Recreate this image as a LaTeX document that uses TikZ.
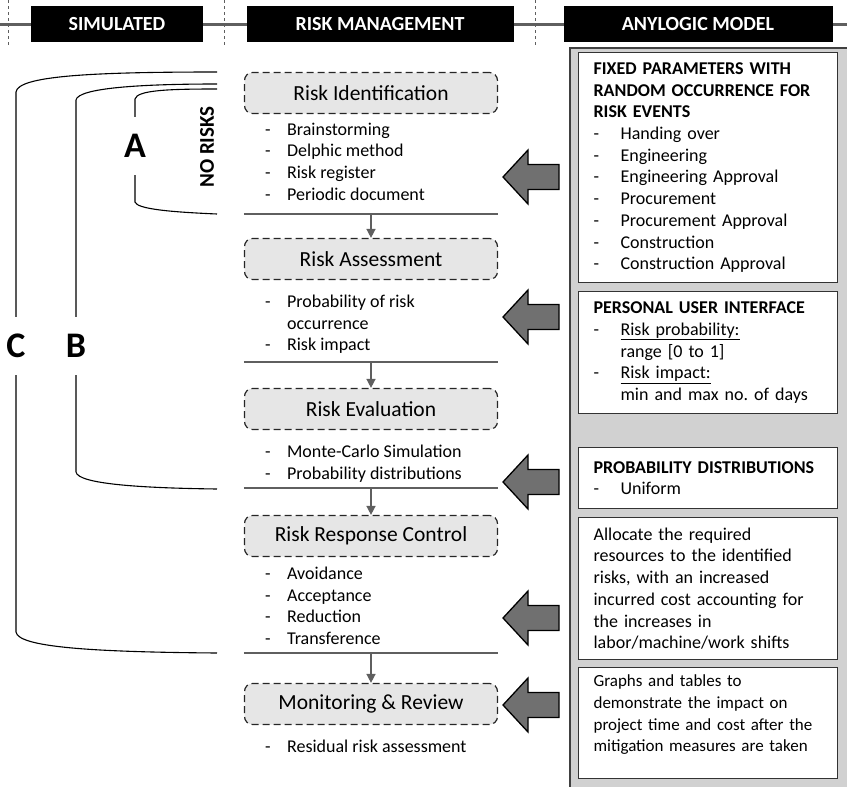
\documentclass[tikz,border=0pt]{standalone}
\usepackage{fontspec}
\setmainfont{Carlito}
\usetikzlibrary{positioning,arrows.meta}
\frenchspacing

\definecolor{linegray}{HTML}{5F5F5F}
\definecolor{stagefill}{HTML}{E6E6E6}
\definecolor{panelfill}{HTML}{D1D1D1}
\definecolor{arrowfill}{HTML}{707070}

\newcommand{\itm}[2][22pt]{\makebox[#1][l]{-}#2}

\tikzset{
  stage/.style={draw=black!85, dash pattern=on 7pt off 4pt, line width=1.2pt, rounded corners=8pt,
    fill=stagefill, minimum width=253pt, minimum height=41pt, font=\fontsize{21.5}{24}\selectfont},
  items/.style={anchor=north west, align=left, inner sep=0pt, font=\fontsize{18}{21.7}\selectfont},
  infobox/.style={draw=black!80, line width=1.2pt, fill=white, anchor=north west, text width=229pt,
    inner xsep=15pt, inner ysep=2pt, align=left, font=\fontsize{18}{21.7}\selectfont},
  hdr/.style={fill=black, text=white, font=\fontsize{20}{22}\selectfont\bfseries, minimum height=36pt},
  letter/.style={fill=white, font=\fontsize{36}{40}\selectfont\bfseries, minimum height=58pt, inner xsep=3pt},
  bracket/.style={line width=1.1pt},
  sepline/.style={linegray, line width=2pt},
  flow/.style={linegray, line width=1.5pt, -{Triangle[width=9pt,length=9pt]}},
  bigarrow/.pic={\draw[fill=arrowfill, line width=1.3pt, line join=miter] (0,0) -- (25,-27) -- (25,-12.5)
    -- (56,-12.5) -- (56,12.5) -- (25,12.5) -- (25,27) -- cycle;}
}

\begin{document}
\begin{tikzpicture}[x=1pt, y=-1pt, on grid]
    \useasboundingbox (0,0) rectangle (847,787);

    \fill[panelfill] (570,48) rectangle (850,790);
    \draw[black!75, line width=1.5pt] (570,790) -- (570,48) -- (850,48);

    \draw[linegray, line width=3pt] (0,24) -- (847,24);
    \foreach \tx in {8,224,535}
        \draw[linegray, line width=1pt, dashed] (\tx,0) -- (\tx,46);
    \node[hdr, minimum width=172pt] (hsim) at (117,24) {SIMULATED};
    \node[hdr, minimum width=267pt] (hrm) at (380,24) {RISK MANAGEMENT};
    \node[hdr, minimum width=269pt] (hmod) at (698,24) {ANYLOGIC MODEL};

    \node[stage] (ri) at (371,93) {Risk Identification};
    \node[stage] (ra) [below=166pt of ri] {Risk Assessment};
    \node[stage] (re) [below=150pt of ra] {Risk Evaluation};
    \node[stage] (rrc) [below=127pt of re] {Risk Response Control};
    \node[stage] (mr) [below=168pt of rrc] {Monitoring \& Review};

    \node[items] (lri) at ([shift={(21pt,-8.5pt)}]ri.south west) {\itm{Brainstorming}\\ \itm{Delphic method}\\ \itm{Risk register}\\ \itm{Periodic document}};
    \node[items] (lra) at ([shift={(21pt,-14.5pt)}]ra.south west) {\itm{Probability of risk}\\ \hspace*{22pt}occurrence\\ \itm{Risk impact}};
    \node[items] (lre) at ([shift={(21pt,-14.5pt)}]re.south west) {\itm{Monte-Carlo Simulation}\\ \itm{Probability distributions}};
    \node[items] (lrrc) at ([shift={(21pt,-9.5pt)}]rrc.south west) {\itm{Avoidance}\\ \itm{Acceptance}\\ \itm{Reduction}\\ \itm{Transference}};
    \node[items] (lmr) at ([shift={(21pt,-14.5pt)}]mr.south west) {\itm{Residual risk assessment}};

    \coordinate (s1) at (371,214);
    \coordinate (s2) at (371,362);
    \coordinate (s3) at (371,488);
    \coordinate (s4) at (371,653);
    \draw[sepline] (s1 -| ri.west) -- (s1 -| ri.east);
    \draw[sepline] (s2 -| ri.west) -- (s2 -| ri.east);
    \draw[sepline] (s3 -| ri.west) -- (s3 -| ri.east);
    \draw[sepline] (s4 -| ri.west) -- (s4 -| ri.east);
    \draw[flow] (s1) -- (ra);
    \draw[flow] (s2) -- (re);
    \draw[flow] (s3) -- (rrc);
    \draw[flow] (s4) -- (mr);

    \draw[bracket] (217,72) .. controls (90,72) and (18,76) .. (16,92) -- (16,632) .. controls (18,647) and (90,652) .. (217,653);
    \draw[bracket] (217,84) .. controls (140,84) and (78,88) .. (76,100) -- (76,472) .. controls (78,484) and (140,488) .. (217,489);
    \draw[bracket] (217,89) .. controls (170,89) and (137,90) .. (135,99) -- (135,202) .. controls (137,209) and (170,212) .. (217,214);
    \node[letter] (la) at (135,146) {A};
    \node[letter] (lb) at (76,346) {B};
    \node[letter] (lc) at (16,346) {C};
    \node[font=\fontsize{21}{23}\selectfont\bfseries, rotate=90] (nr) at (207,147) {NO RISKS};

    \node[infobox, minimum height=230pt] (fixed) at (578,52) {\textbf{FIXED PARAMETERS WITH}\\ \textbf{RANDOM OCCURRENCE FOR}\\ \textbf{RISK EVENTS}\\
        \itm[27pt]{Handing over}\\ \itm[27pt]{Engineering}\\ \itm[27pt]{Engineering Approval}\\ \itm[27pt]{Procurement}\\
        \itm[27pt]{Procurement Approval}\\ \itm[27pt]{Construction}\\ \itm[27pt]{Construction Approval}};
    \node[infobox, minimum height=122pt] (pui) at (578,291) {\textbf{PERSONAL USER INTERFACE}\\ \itm[27pt]{\underline{Risk probability:}}\\
        \hspace*{27pt}range [0 to 1]\\ \itm[27pt]{\underline{Risk impact:}}\\ \hspace*{27pt}min and max no. of days};
    \node[infobox, minimum height=61pt] (dist) at (578,447) {\textbf{PROBABILITY DISTRIBUTIONS}\\ \itm[27pt]{Uniform}};
    \node[infobox, minimum height=142pt] (alloc) at (578,517) {Allocate the required\\ resources to the identified\\ risks, with an increased\\
        incurred cost accounting for\\ the increases in\\ labor/machine/work shifts};
    \node[infobox, minimum height=111pt, font=\fontsize{17}{21.7}\selectfont] (graphs) at (578,667) {Graphs and tables to\\ demonstrate the impact on\\
        project time and cost after the\\ mitigation measures are taken\\[-9pt] \strut};

    \foreach \ay in {177,317,482,618,705}
        \pic at (503,\ay) {bigarrow};
\end{tikzpicture}
\end{document}
